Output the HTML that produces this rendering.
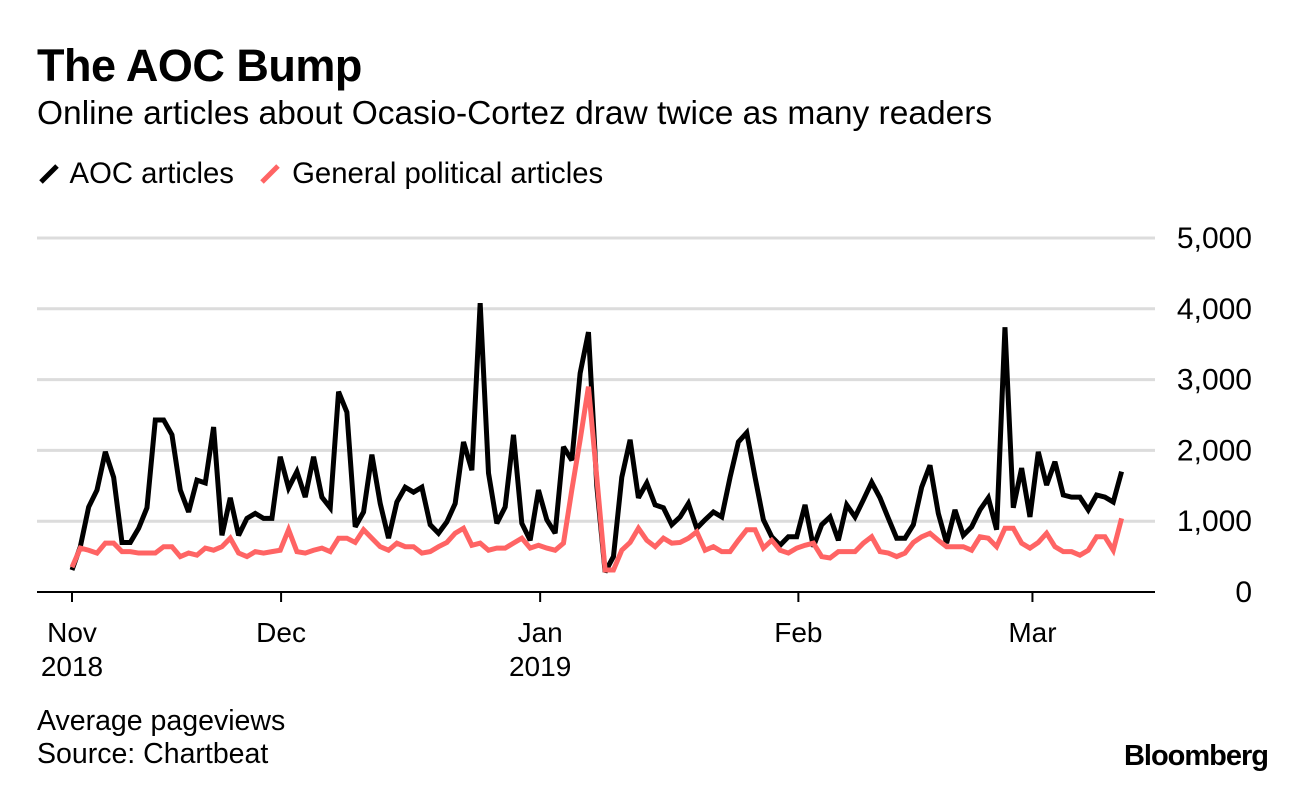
<!DOCTYPE html>
<html><head><meta charset="utf-8"><style>
body{margin:0;background:#fff;font-family:"Liberation Sans",sans-serif;}
.t{position:absolute;white-space:nowrap;color:#000;}
</style></head><body>
<div style="position:relative;width:1296px;height:788px;overflow:hidden">
<div class="t" style="left:37px;top:40px;font-size:45px;font-weight:bold;letter-spacing:-0.5px">The AOC Bump</div>
<div class="t" style="left:37px;top:95px;font-size:33.5px">Online articles about Ocasio-Cortez draw twice as many readers</div>
<div class="t" style="left:37px;top:157px;font-size:29.3px"><svg width="26" height="26" style="vertical-align:-3px"><line x1="4" y1="22" x2="20" y2="6" stroke="#000" stroke-width="5"/></svg> AOC articles</div>
<div class="t" style="left:258px;top:157px;font-size:29.3px"><svg width="26" height="26" style="vertical-align:-3px"><line x1="4" y1="22" x2="20" y2="6" stroke="#ff6464" stroke-width="5"/></svg> General political articles</div>
<svg id="plot" width="1296" height="788" style="position:absolute;left:0;top:0"></svg>
<div class="t" style="left:37px;top:705px;font-size:28.5px">Average pageviews</div>
<div class="t" style="left:37px;top:738px;font-size:28.5px">Source: Chartbeat</div>
<div class="t" style="right:28px;top:740px;font-size:29px;font-weight:bold;letter-spacing:-1px">Bloomberg</div>
</div>
<script>
const aocValues=[310,640,1200,1440,1980,1620,700,700,900,1190,2430,2430,2220,1440,1130,1580,1540,2330,800,1330,800,1040,1110,1040,1040,1910,1470,1700,1340,1910,1340,1190,2830,2540,920,1130,1940,1250,760,1270,1480,1410,
1480,950,830,990,1250,2120,1720,4080,1680,970,1200,2220,970,730,1440,1020,830,2050,1860,3090,3670,1500,280,500,1620,2150,1330,1540,1230,1190,950,1060,1250,900,1020,1130,1060,1620,2120,2250,1620,1020,780,
660,780,780,1230,640,950,1060,730,1230,1060,1300,1550,1330,1040,760,760,950,1480,1790,1110,690,1160,800,920,1160,1330,880,3740,1190,1750,1060,1980,1510,1840,1370,1340,1340,1160,1370,1340,1270,1700];
const generalValues=[350,620,590,550,690,690,570,570,550,550,550,640,640,500,550,520,620,590,640,760,550,500,570,550,570,590,880,570,550,590,620,570,760,760,700,880,760,640,590,690,640,640,
550,570,640,700,830,900,660,690,590,620,620,690,760,620,660,620,590,690,1440,2150,2900,1620,310,310,590,700,900,730,640,760,690,700,760,850,590,640,570,570,730,880,880,620,730,590,
550,620,660,690,500,480,570,570,570,690,780,570,550,500,550,700,780,830,730,640,640,640,590,780,760,640,900,900,690,620,700,830,640,570,570,520,590,780,780,590,1040];
const yTicks=[0,1000,2000,3000,4000,5000];
const yTickLabels=["0","1,000","2,000","3,000","4,000","5,000"];
const xTickDays=[0,25.1,56.2,87.2,115.3];
const xTickLabels=[["Nov","2018"],["Dec",""],["Jan","2019"],["Feb",""],["Mar",""]];

const NS="http://www.w3.org/2000/svg";
const svg=document.getElementById('plot');
const X=d=>72+d*8.33;
const Y=v=>592-v*0.0708;
function mk(tag,attrs){const e=document.createElementNS(NS,tag);for(const k in attrs)e.setAttribute(k,attrs[k]);svg.appendChild(e);return e;}
yTicks.forEach((v,i)=>{
  if(v>0){const g=mk('line',{x1:37,x2:1155,y1:Y(v),y2:Y(v),stroke:'#dcdcdc','stroke-width':3});
  
  }
  const t=mk('text',{x:1252,y:Y(v)+10,'text-anchor':'end','font-size':30,'font-family':'Liberation Sans, sans-serif'});
  t.textContent=yTickLabels[i];
  
  
});
const base=mk('line',{x1:37,x2:1155,y1:592,y2:592,stroke:'#000','stroke-width':2});


xTickDays.forEach((d,i)=>{
  const tk=mk('line',{x1:X(d),x2:X(d),y1:592,y2:602,stroke:'#000','stroke-width':2});
  
  
  xTickLabels[i].forEach((s,j)=>{if(!s)return;
    const t=mk('text',{x:X(d),y:642+j*34,'text-anchor':'middle','font-size':28,'font-family':'Liberation Sans, sans-serif'});
    t.textContent=s;
    
    
  });
});
function line(vals,color,name){
  const p=mk('polyline',{points:vals.map((v,i)=>X(i)+','+Y(v)).join(' '),fill:'none',stroke:color,'stroke-width':5,'stroke-linejoin':'miter','stroke-miterlimit':3});
  
  
}
line(aocValues,'#000','aoc-articles-line');
line(generalValues,'#ff6464','general-articles-line');
</script>
</body></html>
